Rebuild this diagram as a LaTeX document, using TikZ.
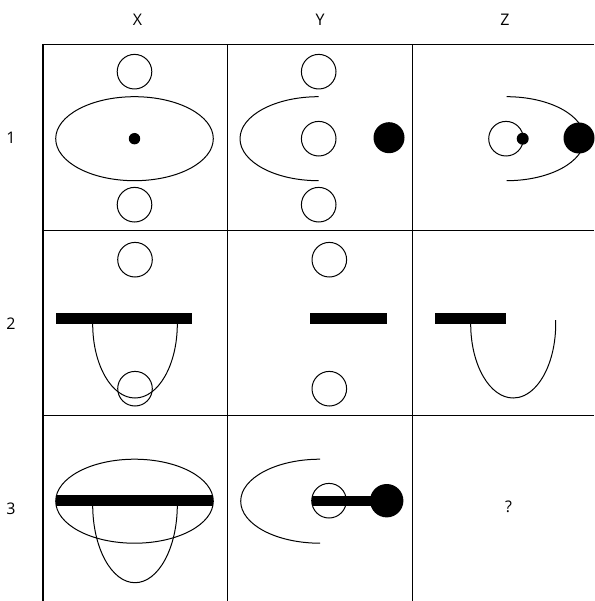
\documentclass[tikz,border=0pt]{standalone}
\usepackage{fontspec}
\setmainfont{Open Sans}
\begin{document}
\begin{tikzpicture}[x=1pt,y=-1pt,
  gridline/.style={line width=1.2pt},
  outl/.style={line width=1pt},
  lbl/.style={font=\fontsize{16}{18}\selectfont, inner sep=0pt}]
\useasboundingbox (0,0) rectangle (594,601);
% grid
\draw[gridline] (43,44.5) -- (594,44.5);
\draw[gridline] (43,230.5) -- (594,230.5);
\draw[gridline] (43,415.7) -- (594,415.7);
\draw[gridline] (43,44.5) -- (43,601);
\draw[gridline] (227.7,44.5) -- (227.7,601);
\draw[gridline] (412.7,44.5) -- (412.7,601);
% labels
\node[lbl] (cx) at (137.5,19.5) {X};
\node[lbl] (cy) at (320,19.5) {Y};
\node[lbl] (cz) at (505,19.5) {Z};
\node[lbl] (r1) at (11,138) {1};
\node[lbl] (r2) at (11,323.5) {2};
\node[lbl] (r3) at (11,509) {3};
\node[lbl] (q) at (508.5,507) {?};
% X1
\draw[outl] (134.5,71.7) circle[radius=17.3];
\draw[outl] (134.5,138.7) ellipse[x radius=78.8, y radius=42];
\fill (134.5,138.7) circle[radius=5.7];
\draw[outl] (134.5,204.7) circle[radius=17.3];
% Y1
\draw[outl] (318.7,71.7) circle[radius=17.3];
\draw[outl] (318.7,138.7) circle[radius=17.3];
\draw[outl] (318.7,204.7) circle[radius=17.3];
\fill (389,137.7) circle[radius=15.5];
\draw[outl] (318.5,96.7) arc[start angle=270, end angle=90, x radius=78.5, y radius=42];
% Z1
\draw[outl] (506,138.7) circle[radius=17.3];
\fill (522.7,138.7) circle[radius=6];
\draw[outl] (506.5,96.7) arc[start angle=270, end angle=450, x radius=78, y radius=42];
\fill (579,138) circle[radius=15.5];
% X2
\draw[outl] (135,259.7) circle[radius=17.3];
\fill (55.7,313.3) rectangle (192.3,324);
\draw[outl] (92.7,324) arc[start angle=180, end angle=0, x radius=42.3, y radius=74];
\draw[outl] (135,388.7) circle[radius=17.3];
% Y2
\draw[outl] (329.3,259.7) circle[radius=17.3];
\draw[outl] (329.3,388.7) circle[radius=17.3];
\fill (310.3,313.3) rectangle (386.7,324);
% Z2
\fill (435,313.3) rectangle (505.7,324);
\draw[outl] (470.7,324) arc[start angle=180, end angle=-3, x radius=42.5, y radius=74];
% X3
\draw[outl] (134.5,501.2) ellipse[x radius=78.8, y radius=42];
\fill (55.7,495) rectangle (213.3,505.5);
\draw[outl] (92.7,505) arc[start angle=180, end angle=0, x radius=42.3, y radius=77.7];
% Y3
\draw[outl] (320,459.2) arc[start angle=270, end angle=90, x radius=79.3, y radius=42];
\draw[outl] (329,500.7) circle[radius=17.3];
\fill (311.7,495.7) rectangle (375,506.3);
\fill (386.7,500.7) circle[radius=16.7];
\end{tikzpicture}
\end{document}
